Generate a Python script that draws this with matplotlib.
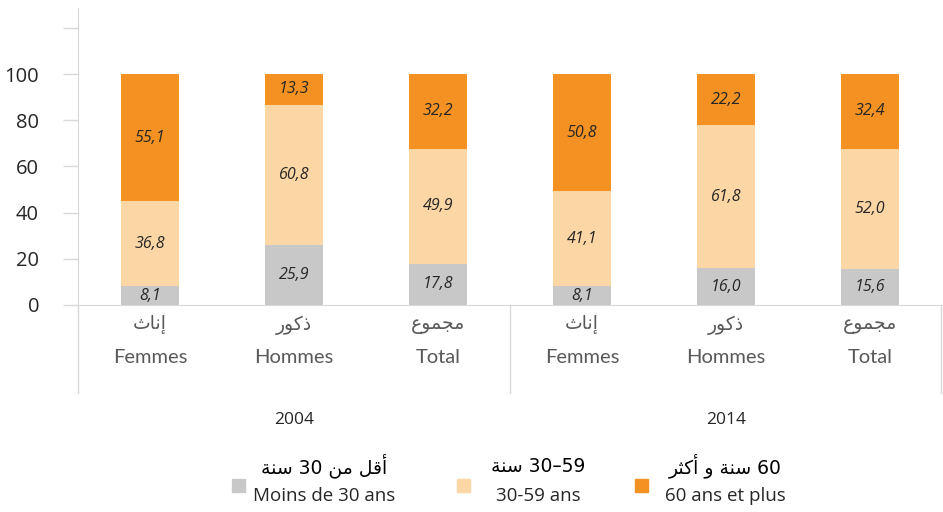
import matplotlib as mpl
mpl.use('Agg')
import matplotlib.pyplot as plt
from matplotlib.patches import Rectangle

# data
years = ['2004', '2014']
cats_fr = ['Femmes', 'Hommes', 'Total'] * 2
cats_ar = ['إناث', 'ذكور', 'مجموع'] * 2
under30 = [8.1, 25.9, 17.8, 8.1, 16.0, 15.6]
mid = [36.8, 60.8, 49.9, 41.1, 61.8, 52.0]
over60 = [55.1, 13.3, 32.2, 50.8, 22.2, 32.4]
leg_ar = ['أقل من 30 سنة', '30–59 سنة', '60 سنة و أكثر']
leg_fr = ['Moins de 30 ans', '30-59 ans', '60 ans et plus']
colors = ['#C8C8C8', '#FCD6A5', '#F39122']

# arabic presentation forms (iso, fin, init, med)
FORMS = {
    'ا': (0xFE8D, 0xFE8E), 'أ': (0xFE83, 0xFE84), 'إ': (0xFE87, 0xFE88),
    'ة': (0xFE93, 0xFE94), 'ذ': (0xFEAB, 0xFEAC), 'ر': (0xFEAD, 0xFEAE),
    'و': (0xFEED, 0xFEEE),
    'ث': (0xFE99, 0xFE9A, 0xFE9B, 0xFE9C), 'ج': (0xFE9D, 0xFE9E, 0xFE9F, 0xFEA0),
    'س': (0xFEB1, 0xFEB2, 0xFEB3, 0xFEB4), 'ع': (0xFEC9, 0xFECA, 0xFECB, 0xFECC),
    'ق': (0xFED5, 0xFED6, 0xFED7, 0xFED8), 'ك': (0xFED9, 0xFEDA, 0xFEDB, 0xFEDC),
    'ل': (0xFEDD, 0xFEDE, 0xFEDF, 0xFEE0), 'م': (0xFEE1, 0xFEE2, 0xFEE3, 0xFEE4),
    'ن': (0xFEE5, 0xFEE6, 0xFEE7, 0xFEE8),
}


def shape(word):
    out = ''
    for i, c in enumerate(word):
        if c not in FORMS:
            out += c
            continue
        p = i > 0 and word[i-1] in FORMS and len(FORMS[word[i-1]]) == 4
        n = len(FORMS[c]) == 4 and i + 1 < len(word) and word[i+1] in FORMS
        k = 3 if (p and n) else 1 if p else 2 if n else 0
        out += chr(FORMS[c][k])
    return out


def ar(s):
    toks = []
    for t in s.split(' '):
        if any(c in FORMS for c in t):
            toks.append(shape(t)[::-1])
        else:
            toks.append(t)
    return ' '.join(toks[::-1])


plt.rcParams['font.family'] = ['Open Sans', 'DejaVu Sans']

fig = plt.figure(figsize=(9.43, 5.12), dpi=100)
ax = fig.add_axes([78/943, 207/512, 864/943, 297/512])

x = list(range(6))
bot2 = [a + b for a, b in zip(under30, mid)]
series = [(under30, [0]*6), (mid, under30), (over60, bot2)]
for (vals, bot), col in zip(series, colors):
    bars = ax.bar(x, vals, width=0.4, bottom=bot, color=col, edgecolor='none')
    ax.bar_label(bars, labels=[('%.1f' % v).replace('.', ',') for v in vals],
                 label_type='center', fontsize=11.5, style='italic', color='#262626')

ax.set_xlim(-0.5, 5.5)
ax.set_ylim(0, 128.6)
ax.set_yticks([0, 20, 40, 60, 80, 100, 120])
ax.set_yticklabels(['0', '20', '40', '60', '80', '100', ''])
ax.tick_params(axis='y', length=11, width=1, color='#D9D9D9', pad=17,
               labelsize=14.5, labelcolor='#262626')
ax.set_xticks([])
for s in ['top', 'right']:
    ax.spines[s].set_visible(False)
ax.spines['left'].set_color('#D9D9D9')
ax.spines['bottom'].set_color('#D9D9D9')

tr = ax.get_xaxis_transform()
for xs in [-0.5, 2.5, 5.49]:
    ax.plot([xs, xs], [0, -0.296], transform=tr, color='#D9D9D9', lw=1, clip_on=False)

for i in x:
    ax.text(i, -0.067, ar(cats_ar[i]), transform=tr, ha='center', va='center',
            fontsize=13.5, color='#595959', family='DejaVu Sans')
    ax.text(i, -0.178, cats_fr[i], transform=tr, ha='center', va='center',
            fontsize=14.5, color='#595959', family=['Lato', 'DejaVu Sans'])
for g, yr in enumerate(years):
    ax.text(1 + 3*g, -0.387, yr, transform=tr, ha='center', va='center',
            fontsize=12.5, color='#262626')

# legend
sq_x = [232, 457, 635]
txt_x = [324, 538, 725]
for k in range(3):
    fig.patches.append(Rectangle((sq_x[k]/943, (512-492)/512), 13/943, 13/512,
                                 transform=fig.transFigure, color=colors[k]))
    fig.text(txt_x[k]/943, (512-466)/512, ar(leg_ar[k]), ha='center', va='center',
             fontsize=13.5, color='black', family='DejaVu Sans')
    fig.text(txt_x[k]/943, (512-496)/512, leg_fr[k], ha='center', va='center',
             fontsize=13.5, color='#262626')

plt.savefig('out.png', dpi=100)
